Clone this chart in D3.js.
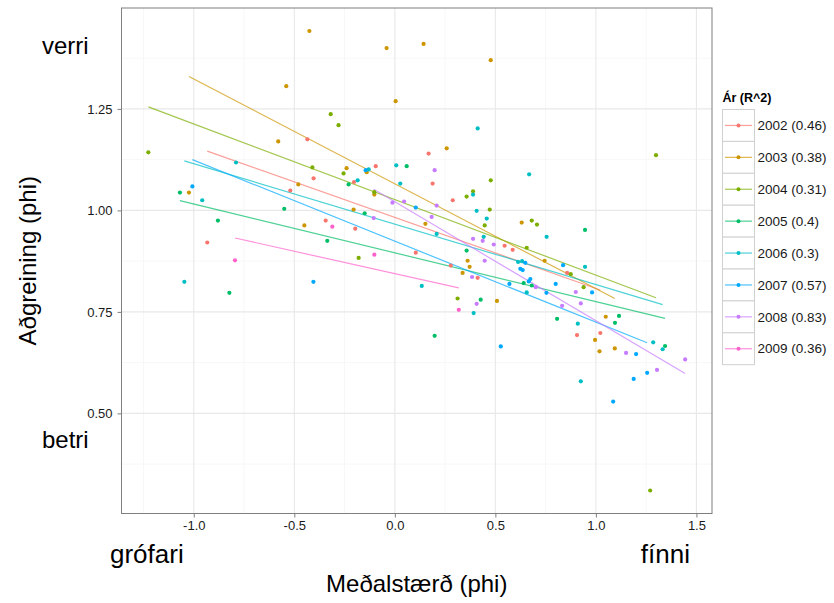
<!DOCTYPE html>
<html>
<head>
<meta charset="utf-8">
<script src="https://cdn.jsdelivr.net/npm/d3@7"></script>
<style>
  html, body { margin: 0; padding: 0; background: #fff; }
  svg { display: block; font-family: "Liberation Sans", Arial, sans-serif; }
</style>
</head>
<body>
<svg id="chart" width="834" height="603"></svg>
<script>
// Years and their R^2 as printed in the legend
const years = ["2002", "2003", "2004", "2005", "2006", "2007", "2008", "2009"];
const rSquared = ["0.46", "0.38", "0.31", "0.4", "0.3", "0.57", "0.83", "0.36"];
const colors = ["#F8766D", "#CD9600", "#7CAE00", "#00BE67", "#00BFC4", "#00A9FF", "#C77CFF", "#FF61CC"];

// Sample points per year: [meðalstærð, aðgreining]
const pts2002 = [[-0.435,1.175],[-0.933,0.921],[-0.520,1.049],[-0.404,1.079],[-0.095,1.109],[0.168,1.140],
  [-0.203,1.070],[0.188,1.066],[0.288,1.025],[-0.344,0.975],[-0.197,0.955],[0.546,0.913],[0.586,0.903],
  [0.104,0.896],[0.278,0.864],[0.412,0.834],[0.857,0.846],[1.022,0.698],[0.906,0.693]];
const pts2003 = [[-0.425,1.442],[-0.540,1.306],[-0.580,1.170],[-0.041,1.400],[0.143,1.410],[0.477,1.370],
  [0.004,1.269],[0.258,1.153],[-0.240,1.104],[-0.140,1.094],[-1.024,1.044],[-0.450,0.963],[-0.480,1.064],
  [-0.102,1.039],[-0.205,1.002],[0.152,0.967],[0.362,0.876],[0.372,0.861],[0.337,0.846],[0.508,0.777],
  [0.631,0.970],[0.745,0.876],[1.049,0.738],[0.996,0.681],[1.018,0.653],[1.094,0.660]];
const pts2004 = [[-1.226,1.143],[-0.410,1.106],[-0.319,1.237],[-0.280,1.210],[-0.255,1.091],[0.477,1.074],
  [0.389,1.047],[0.357,1.034],[0.472,1.002],[0.447,0.963],[-0.180,0.883],[0.312,0.783],[0.681,0.975],
  [0.707,0.965],[0.656,0.908],[0.875,0.843],[0.939,0.811],[1.299,1.136],[1.270,0.310],[-0.102,1.045]];
const pts2005 = [[-1.069,1.044],[-0.880,0.975],[-0.823,0.797],[-0.550,1.004],[0.059,1.109],[-0.230,1.064],
  [-0.150,0.993],[-0.336,0.925],[0.357,0.901],[0.427,0.780],[0.198,0.691],[0.946,0.952],[0.641,0.821],
  [0.681,0.815],[0.807,0.733],[1.115,0.740],[1.095,0.723],[1.344,0.666]];
const pts2006 = [[-0.790,1.118],[-0.958,1.025],[-1.047,0.824],[0.412,1.202],[0.007,1.111],[-0.130,1.101],
  [0.668,1.089],[-0.185,1.074],[0.027,1.066],[0.389,1.039],[0.407,0.999],[0.457,0.980],[0.208,0.942],
  [0.442,0.935],[0.755,0.935],[0.613,0.873],[0.633,0.875],[0.134,0.814],[0.392,0.747],[0.946,0.861],
  [0.656,0.798],[0.910,0.721],[0.925,0.579],[1.285,0.675],[1.332,0.658]];
const pts2007 = [[-1.007,1.059],[-0.405,0.824],[-0.145,1.099],[0.104,1.007],[0.570,0.819],[0.527,0.665],
  [0.649,0.871],[0.624,0.856],[0.636,0.853],[0.837,0.865],[0.674,0.831],[0.666,0.825],[0.800,0.819],
  [0.754,0.797],[0.981,0.798],[1.200,0.646],[1.255,0.600],[1.188,0.585],[1.086,0.529]];
const pts2008 = [[0.198,1.099],[-0.012,1.019],[0.046,1.022],[0.208,1.012],[-0.105,0.981],[0.183,0.984],
  [0.389,0.930],[0.437,0.925],[0.492,0.916],[0.447,0.876],[0.384,0.836],[0.407,0.770],[0.701,0.811],
  [0.900,0.799],[0.925,0.771],[0.832,0.765],[1.150,0.649],[1.444,0.633],[1.304,0.607]];
const pts2009 = [[-0.795,0.877],[-0.311,0.960],[-0.102,0.891],[0.318,0.755]];
const points = [pts2002, pts2003, pts2004, pts2005, pts2006, pts2007, pts2008, pts2009];

// Fitted linear trend per year: start and end [x, y]
const fitStart = [[-0.933,1.146],[-1.024,1.330],[-1.226,1.255],[-1.069,1.024],[-1.047,1.122],[-1.007,1.125],[-0.105,1.052],[-0.795,0.932]];
const fitEnd   = [[1.022,0.804],[1.094,0.783],[1.299,0.785],[1.344,0.734],[1.332,0.768],[1.255,0.674],[1.444,0.598],[0.318,0.809]];

// Axis ticks
const xTicks = [-1.0, -0.5, 0.0, 0.5, 1.0, 1.5];
const xTickLabels = ["-1.0", "-0.5", "0.0", "0.5", "1.0", "1.5"];
const yTicks = [0.50, 0.75, 1.00, 1.25];
const yTickLabels = ["0.50", "0.75", "1.00", "1.25"];
const xMinor = [-1.25, -0.75, -0.25, 0.25, 0.75, 1.25];
const yMinor = [0.375, 0.625, 0.875, 1.125, 1.375];

const svg = d3.select("#chart");
const panel = { left: 121.5, right: 712, top: 8, bottom: 513.5 };

// Data extent with 5% padding on each side
const allPts = points.flat();
function padded(ext) { const d = ext[1] - ext[0]; return [ext[0] - 0.05 * d, ext[1] + 0.05 * d]; }
const x = d3.scaleLinear().domain(padded(d3.extent(allPts, d => d[0]))).range([panel.left, panel.right]);
const y = d3.scaleLinear().domain(padded(d3.extent(allPts, d => d[1]))).range([panel.bottom, panel.top]);

const g = svg.append("g");
const pw = panel.right - panel.left, ph = panel.bottom - panel.top;

// Panel background
g.append("rect").attr("x", panel.left).attr("y", panel.top).attr("width", pw).attr("height", ph).attr("fill", "#fff");

// Grid lines
g.append("g").selectAll("line").data(xMinor).join("line")
  .attr("x1", d => x(d)).attr("x2", d => x(d)).attr("y1", panel.top).attr("y2", panel.bottom)
  .attr("stroke", "#f7f7f7").attr("stroke-width", 1);
g.append("g").selectAll("line").data(yMinor).join("line")
  .attr("y1", d => y(d)).attr("y2", d => y(d)).attr("x1", panel.left).attr("x2", panel.right)
  .attr("stroke", "#f7f7f7").attr("stroke-width", 1);
g.append("g").selectAll("line").data(xTicks).join("line")
  .attr("x1", d => x(d)).attr("x2", d => x(d)).attr("y1", panel.top).attr("y2", panel.bottom)
  .attr("stroke", "#e8e8e8").attr("stroke-width", 1.1);
g.append("g").selectAll("line").data(yTicks).join("line")
  .attr("y1", d => y(d)).attr("y2", d => y(d)).attr("x1", panel.left).attr("x2", panel.right)
  .attr("stroke", "#e8e8e8").attr("stroke-width", 1.1);

// Trend lines
const trend = g.append("g");
years.forEach((yr, i) => {
  trend.append("line")
    .attr("x1", x(fitStart[i][0])).attr("y1", y(fitStart[i][1]))
    .attr("x2", x(fitEnd[i][0])).attr("y2", y(fitEnd[i][1]))
    .attr("stroke", colors[i]).attr("stroke-width", 1.2).attr("stroke-opacity", 0.7);
});

// Points
const dots = g.append("g");
years.forEach((yr, i) => {
  dots.append("g").selectAll("circle").data(points[i]).join("circle")
    .attr("cx", d => x(d[0])).attr("cy", d => y(d[1])).attr("r", 2.1)
    .attr("fill", colors[i]);
});

// Panel border
g.append("rect").attr("x", panel.left).attr("y", panel.top).attr("width", pw).attr("height", ph)
  .attr("fill", "none").attr("stroke", "#7f7f7f").attr("stroke-width", 1);

// Axes
const xAxis = d3.axisBottom(x).tickValues(xTicks).tickFormat((d, i) => xTickLabels[i]).tickSize(4).tickPadding(3);
const yAxis = d3.axisLeft(y).tickValues(yTicks).tickFormat((d, i) => yTickLabels[i]).tickSize(4).tickPadding(5);
const xa = svg.append("g").attr("transform", `translate(0,${panel.bottom})`).call(xAxis);
const ya = svg.append("g").attr("transform", `translate(${panel.left},0)`).call(yAxis);
[xa, ya].forEach(a => {
  a.select(".domain").remove();
  a.selectAll(".tick line").attr("stroke", "#7f7f7f");
  a.selectAll(".tick text").attr("fill", "#1a1a1a").style("font-size", "13px")
    .style("font-family", '"Liberation Sans", Arial, sans-serif');
});

// Axis titles
svg.append("text").attr("x", (panel.left + panel.right) / 2).attr("y", 592)
  .attr("text-anchor", "middle").style("font-size", "24px").text("Meðalstærð (phi)");
svg.append("text").attr("transform", `translate(36,${(panel.top + panel.bottom) / 2}) rotate(-90)`)
  .attr("text-anchor", "middle").style("font-size", "24px").text("Aðgreining (phi)");

// Direction annotations
svg.append("text").attr("x", 42).attr("y", 54).style("font-size", "24px").text("verri");
svg.append("text").attr("x", 42).attr("y", 448).style("font-size", "24px").text("betri");
svg.append("text").attr("x", 110).attr("y", 563).style("font-size", "26px").text("grófari");
svg.append("text").attr("x", 690).attr("y", 563).attr("text-anchor", "end").style("font-size", "26px").text("fínni");

// Legend
const leg = svg.append("g");
leg.append("text").attr("x", 722.5).attr("y", 102).style("font-size", "12.5px").style("font-weight", "bold")
  .text("Ár (R^2)");
const keyH = 31.9, keyTop = 109.5;
years.forEach((yr, i) => {
  const ky = keyTop + i * keyH;
  leg.append("rect").attr("x", 722.5).attr("y", ky).attr("width", 32).attr("height", keyH)
    .attr("fill", "#fff").attr("stroke", "#d0d0d0").attr("stroke-width", 1);
  leg.append("line").attr("x1", 725).attr("x2", 752).attr("y1", ky + keyH / 2).attr("y2", ky + keyH / 2)
    .attr("stroke", colors[i]).attr("stroke-width", 1.2).attr("stroke-opacity", 0.7);
  leg.append("circle").attr("cx", 738.5).attr("cy", ky + keyH / 2).attr("r", 2).attr("fill", colors[i]);
  leg.append("text").attr("x", 757.5).attr("y", ky + keyH / 2).attr("dy", "0.35em")
    .style("font-size", "13.5px").attr("fill", "#1a1a1a").text(`${yr} (${rSquared[i]})`);
});
</script>
</body>
</html>
